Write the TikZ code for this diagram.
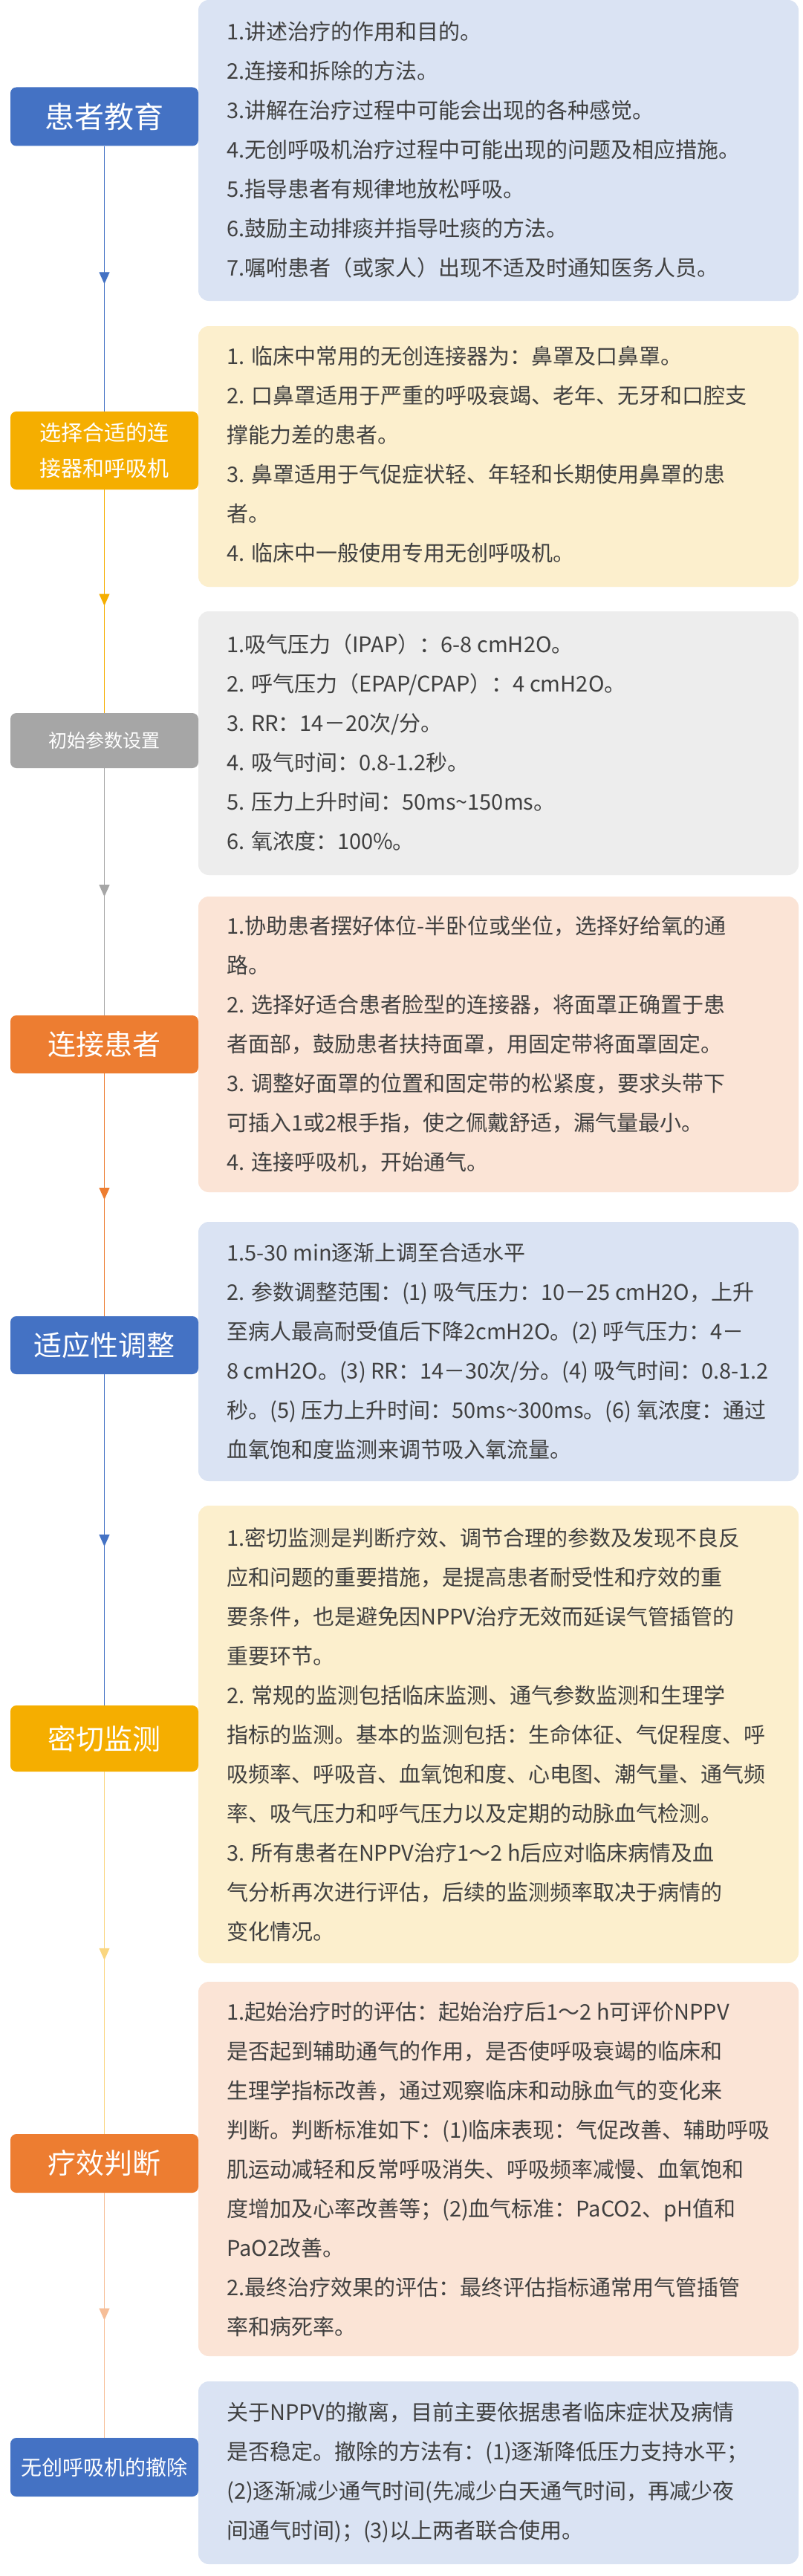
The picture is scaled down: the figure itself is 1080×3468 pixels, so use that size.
\documentclass[tikz,border=0pt]{standalone}
\usepackage{fontspec}
\setmainfont{Noto Sans CJK SC}
\usetikzlibrary{decorations.markings,arrows.meta}
\definecolor{cblue}{HTML}{4472C4}\definecolor{fblue}{HTML}{DAE3F3}
\definecolor{cyel}{HTML}{F5AE00}\definecolor{fyel}{HTML}{FCEFCD}
\definecolor{cgray}{HTML}{A6A6A6}\definecolor{fgray}{HTML}{EDEDED}
\definecolor{corg}{HTML}{ED7D31}\definecolor{forg}{HTML}{FBE4D6}
\definecolor{ctext}{HTML}{404040}
\tikzset{
 lab/.style={fill=#1,text=white,rounded corners=8pt,minimum width=253pt,align=center,inner sep=0pt},
 box/.style={fill=#1,rounded corners=14pt,draw=none},
 btext/.style={anchor=west,align=left,text=ctext,inner sep=0pt,font=\fontsize{29}{53}\selectfont},
 conn/.style={draw=#1,line width=1.2pt,postaction={decorate},decoration={markings,mark=at position 0.52 with {\arrow[#1]{Triangle[length=16pt,width=14pt]}}}},
}
\begin{document}
\begin{tikzpicture}[x=1pt,y=-1pt]
\useasboundingbox[fill=white] (0,0) rectangle (1080,3468);
% boxes
\path[box=fblue] (267,0) rectangle (1075,405);
\path[box=fyel] (267,439) rectangle (1075,790);
\path[box=fgray] (267,823) rectangle (1075,1178);
\path[box=forg] (267,1207) rectangle (1075,1605);
\path[box=fblue] (267,1645) rectangle (1075,1994);
\path[box=fyel] (267,2027) rectangle (1075,2643);
\path[box=forg] (267,2668) rectangle (1075,3172);
\path[box=fblue] (267,3206) rectangle (1075,3452);
% labels
\node[lab=cblue,minimum height=79pt,font=\fontsize{40}{44}\selectfont] (l1) at (140.5,157) {患者教育};
\node[lab=cyel,minimum height=105pt,font=\fontsize{29}{48}\selectfont] (l2) at (140.5,606.5) {选择合适的连\\接器和呼吸机};
\node[lab=cgray,minimum height=74pt,font=\fontsize{25}{30}\selectfont] (l3) at (140.5,997) {初始参数设置};
\node[lab=corg,minimum height=78pt,font=\fontsize{38}{44}\selectfont] (l4) at (140.5,1406) {连接患者};
\node[lab=cblue,minimum height=78pt,font=\fontsize{38}{44}\selectfont] (l5) at (140.5,1811) {适应性调整};
\node[lab=cyel,minimum height=89pt,font=\fontsize{38}{44}\selectfont] (l6) at (140.5,2340.5) {密切监测};
\node[lab=corg,minimum height=79pt,font=\fontsize{38}{44}\selectfont] (l7) at (140.5,2912.5) {疗效判断};
\node[lab=cblue,minimum height=79pt,font=\fontsize{28}{32}\selectfont] (l8) at (140.5,3321.5) {无创呼吸机的撤除};
% connectors
\draw[conn=cblue] (l1.south) -- (l2.north);
\draw[conn=cyel] (l2.south) -- (l3.north);
\draw[conn=cgray] (l3.south) -- (l4.north);
\draw[conn=corg] (l4.south) -- (l5.north);
\draw[conn=cblue] (l5.south) -- (l6.north);
\draw[conn=cyel!50] (l6.south) -- (l7.north);
\draw[conn=corg!50] (l7.south) -- (l8.north);
% texts
\node[btext] (t1) at (305,202) {1.讲述治疗的作用和目的。\\2.连接和拆除的方法。\\3.讲解在治疗过程中可能会出现的各种感觉。\\4.无创呼吸机治疗过程中可能出现的问题及相应措施。\\5.指导患者有规律地放松呼吸。\\6.鼓励主动排痰并指导吐痰的方法。\\7.嘱咐患者（或家人）出现不适及时通知医务人员。};
\node[btext] (t2) at (305,612) {1. 临床中常用的无创连接器为：鼻罩及口鼻罩。\\2. 口鼻罩适用于严重的呼吸衰竭、老年、无牙和口腔支\\撑能力差的患者。\\3. 鼻罩适用于气促症状轻、年轻和长期使用鼻罩的患\\者。\\4. 临床中一般使用专用无创呼吸机。};
\node[btext] (t3) at (305,1000) {1.吸气压力（IPAP）：6-8 cmH2O。\\2. 呼气压力（EPAP/CPAP）：4 cmH2O。\\3. RR：14－20次/分。\\4. 吸气时间：0.8-1.2秒。\\5. 压力上升时间：50ms\textasciitilde150ms。\\6. 氧浓度：100\%。};
\node[btext] (t4) at (305,1406) {1.协助患者摆好体位-半卧位或坐位，选择好给氧的通\\路。\\2. 选择好适合患者脸型的连接器，将面罩正确置于患\\者面部，鼓励患者扶持面罩，用固定带将面罩固定。\\3. 调整好面罩的位置和固定带的松紧度，要求头带下\\可插入1或2根手指，使之佩戴舒适，漏气量最小。\\4. 连接呼吸机，开始通气。};
\node[btext] (t5) at (305,1819) {1.5-30 min逐渐上调至合适水平\\2. 参数调整范围：(1) 吸气压力：10－25 cmH2O，上升\\至病人最高耐受值后下降2cmH2O。(2) 呼气压力：4－\\8 cmH2O。(3) RR：14－30次/分。(4) 吸气时间：0.8-1.2\\秒。(5) 压力上升时间：50ms\textasciitilde300ms。(6) 氧浓度：通过\\血氧饱和度监测来调节吸入氧流量。};
\node[btext] (t6) at (305,2335) {1.密切监测是判断疗效、调节合理的参数及发现不良反\\应和问题的重要措施，是提高患者耐受性和疗效的重\\要条件，也是避免因NPPV治疗无效而延误气管插管的\\重要环节。\\2. 常规的监测包括临床监测、通气参数监测和生理学\\指标的监测。基本的监测包括：生命体征、气促程度、呼\\吸频率、呼吸音、血氧饱和度、心电图、潮气量、通气频\\率、吸气压力和呼气压力以及定期的动脉血气检测。\\3. 所有患者在NPPV治疗1～2 h后应对临床病情及血\\气分析再次进行评估，后续的监测频率取决于病情的\\变化情况。};
\node[btext] (t7) at (305,2920) {1.起始治疗时的评估：起始治疗后1～2 h可评价NPPV\\是否起到辅助通气的作用，是否使呼吸衰竭的临床和\\生理学指标改善，通过观察临床和动脉血气的变化来\\判断。判断标准如下：(1)临床表现：气促改善、辅助呼吸\\肌运动减轻和反常呼吸消失、呼吸频率减慢、血氧饱和\\度增加及心率改善等；(2)血气标准：PaCO2、pH值和\\PaO2改善。\\2.最终治疗效果的评估：最终评估指标通常用气管插管\\率和病死率。};
\node[btext] (t8) at (305,3329) {关于NPPV的撤离，目前主要依据患者临床症状及病情\\是否稳定。撤除的方法有：(1)逐渐降低压力支持水平；\\(2)逐渐减少通气时间(先减少白天通气时间，再减少夜\\间通气时间)；(3)以上两者联合使用。};
\end{tikzpicture}
\end{document}
